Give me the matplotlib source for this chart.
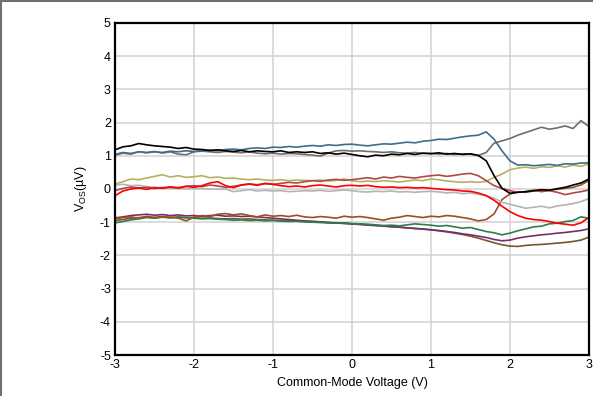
import numpy as np
import matplotlib
matplotlib.use("Agg")
import matplotlib.pyplot as plt
from matplotlib.lines import Line2D

plt.rcParams['font.family'] = ['Liberation Sans', 'DejaVu Sans']
plt.rcParams['axes.unicode_minus'] = False

# common-mode voltage, -3 V .. 3 V in 0.1 V steps
vcm = np.round(np.arange(-3.0, 3.01, 0.1), 2)

black = [1.18, 1.27, 1.30, 1.37, 1.33, 1.30, 1.28, 1.26, 1.22, 1.25,
         1.20, 1.19, 1.16, 1.18, 1.15, 1.13, 1.16, 1.12, 1.15, 1.13,
         1.12, 1.15, 1.10, 1.12, 1.10, 1.12, 1.07, 1.09, 1.05, 1.08,
         1.04, 1.00, 0.97, 1.02, 1.00, 1.05, 1.03, 1.07, 1.04, 1.08,
         1.06, 1.09, 1.05, 1.07, 1.04, 1.06, 1.01, 0.85, 0.40, 0.02,
         -0.13, -0.10, -0.08, -0.05, -0.02, -0.04, 0.01, 0.05, 0.12, 0.18,
         0.30]
blue = [1.04, 1.10, 1.07, 1.12, 1.09, 1.12, 1.10, 1.14, 1.12, 1.15,
        1.13, 1.16, 1.17, 1.15, 1.19, 1.20, 1.18, 1.22, 1.24, 1.22,
        1.26, 1.25, 1.28, 1.26, 1.29, 1.31, 1.29, 1.33, 1.31, 1.34,
        1.35, 1.32, 1.30, 1.33, 1.36, 1.35, 1.38, 1.41, 1.39, 1.44,
        1.46, 1.50, 1.49, 1.53, 1.57, 1.60, 1.62, 1.72, 1.50, 1.15,
        0.85, 0.72, 0.73, 0.70, 0.72, 0.74, 0.71, 0.76, 0.75, 0.78,
        0.79]
dgray = [1.02, 1.08, 1.05, 1.12, 1.10, 1.13, 1.08, 1.12, 1.05, 1.03,
         1.12, 1.14, 1.12, 1.10, 1.13, 1.11, 1.09, 1.12, 1.08, 1.06,
         1.08, 1.05, 1.07, 1.06, 1.04, 1.02, 0.99, 1.08, 1.15, 1.16,
         1.14, 1.15, 1.13, 1.12, 1.10, 1.12, 1.09, 1.08, 1.10, 1.07,
         1.08, 1.05, 1.07, 1.04, 1.06, 1.05, 1.01, 1.10, 1.38, 1.45,
         1.52, 1.62, 1.70, 1.78, 1.86, 1.80, 1.84, 1.90, 1.82, 2.06,
         1.88]
khaki = [0.15, 0.22, 0.30, 0.28, 0.33, 0.38, 0.43, 0.36, 0.40, 0.35,
         0.37, 0.40, 0.34, 0.36, 0.32, 0.33, 0.30, 0.28, 0.30, 0.27,
         0.26, 0.28, 0.25, 0.27, 0.26, 0.25, 0.27, 0.24, 0.26, 0.30,
         0.25, 0.22, 0.24, 0.22, 0.25, 0.23, 0.21, 0.24, 0.27, 0.25,
         0.30, 0.28, 0.24, 0.22, 0.20, 0.22, 0.20, 0.23, 0.35, 0.45,
         0.58, 0.63, 0.66, 0.62, 0.67, 0.65, 0.70, 0.66, 0.72, 0.68,
         0.76]
ired = [-0.05, 0.02, 0.06, 0.03, 0.05, 0.01, 0.04, 0.06, 0.02, 0.08,
        0.10, 0.07, 0.12, 0.09, 0.05, 0.08, 0.12, 0.15, 0.13, 0.16,
        0.14, 0.17, 0.20, 0.18, 0.22, 0.25, 0.23, 0.27, 0.29, 0.26,
        0.28, 0.31, 0.34, 0.30, 0.36, 0.33, 0.38, 0.35, 0.33, 0.37,
        0.40, 0.42, 0.38, 0.41, 0.45, 0.47, 0.40, 0.25, 0.10, 0.02,
        -0.05, -0.10, -0.08, -0.04, -0.08, -0.05, -0.10, -0.17, -0.12, -0.08,
        -0.03]
red = [-0.20, -0.06, 0.00, 0.03, -0.01, 0.04, 0.02, 0.06, 0.04, 0.08,
       0.05, 0.10, 0.18, 0.22, 0.10, 0.04, 0.12, 0.15, 0.11, 0.17,
       0.14, 0.10, 0.07, 0.09, 0.06, 0.10, 0.12, 0.09, 0.06, 0.10,
       0.11, 0.09, 0.11, 0.07, 0.05, 0.06, 0.04, 0.05, 0.03, 0.04,
       0.02, 0.00, -0.02, -0.03, -0.06, -0.07, -0.12, -0.20, -0.34, -0.52,
       -0.68, -0.80, -0.88, -0.92, -0.94, -0.98, -1.03, -1.06, -1.09, -1.02,
       -0.86]
lgray = [0.12, 0.14, 0.10, 0.11, 0.07, 0.05, 0.04, 0.02, 0.03, 0.00,
         0.02, 0.01, 0.00, -0.01, 0.00, -0.08, -0.05, -0.02, -0.06, -0.04,
         -0.06, -0.05, -0.08, -0.07, -0.05, -0.06, -0.04, -0.07, -0.05, -0.03,
         -0.05, -0.08, -0.09, -0.07, -0.08, -0.06, -0.09, -0.08, -0.10, -0.08,
         -0.07, -0.09, -0.12, -0.10, -0.14, -0.12, -0.16, -0.20, -0.28, -0.40,
         -0.46, -0.52, -0.58, -0.55, -0.52, -0.57, -0.51, -0.48, -0.44, -0.38,
         -0.29]
sienna = [-0.90, -0.86, -0.84, -0.88, -0.82, -0.86, -0.83, -0.85, -0.88, -0.96,
          -0.85, -0.80, -0.83, -0.76, -0.74, -0.78, -0.75, -0.80, -0.84, -0.78,
          -0.82, -0.80, -0.83, -0.79, -0.84, -0.86, -0.83, -0.85, -0.88, -0.82,
          -0.85, -0.83, -0.86, -0.90, -0.94, -0.88, -0.85, -0.80, -0.83, -0.86,
          -0.82, -0.84, -0.80, -0.82, -0.86, -0.90, -0.96, -0.92, -0.75, -0.32,
          -0.15, -0.09, -0.10, -0.06, -0.04, -0.03, -0.01, 0.02, 0.05, 0.12,
          0.25]
green = [-1.02, -0.98, -0.93, -0.90, -0.86, -0.88, -0.85, -0.87, -0.84, -0.86,
         -0.88, -0.90, -0.89, -0.91, -0.92, -0.94, -0.93, -0.95, -0.94, -0.96,
         -0.95, -0.97, -0.98, -0.97, -0.99, -1.00, -1.01, -1.02, -1.03, -1.02,
         -1.04, -1.05, -1.06, -1.08, -1.10, -1.09, -1.11, -1.08, -1.05, -1.07,
         -1.09, -1.12, -1.10, -1.14, -1.18, -1.16, -1.22, -1.28, -1.32, -1.38,
         -1.33, -1.26, -1.20, -1.14, -1.12, -1.05, -1.03, -0.98, -0.95, -0.84,
         -0.88]
purple = [-0.87, -0.84, -0.80, -0.78, -0.76, -0.79, -0.77, -0.80, -0.78, -0.81,
          -0.80, -0.82, -0.80, -0.79, -0.82, -0.81, -0.83, -0.82, -0.84, -0.86,
          -0.88, -0.90, -0.92, -0.94, -0.96, -0.97, -0.99, -1.01, -1.02, -1.04,
          -1.05, -1.06, -1.08, -1.10, -1.11, -1.13, -1.15, -1.17, -1.19, -1.20,
          -1.23, -1.25, -1.28, -1.31, -1.35, -1.38, -1.42, -1.46, -1.52, -1.56,
          -1.54, -1.48, -1.44, -1.41, -1.38, -1.36, -1.33, -1.31, -1.28, -1.25,
          -1.20]
dbrown = [-0.95, -0.92, -0.88, -0.86, -0.85, -0.86, -0.84, -0.86, -0.85, -0.87,
          -0.86, -0.88, -0.87, -0.89, -0.90, -0.89, -0.91, -0.90, -0.92, -0.93,
          -0.94, -0.95, -0.96, -0.97, -0.98, -0.99, -1.00, -1.01, -1.02, -1.03,
          -1.05, -1.07, -1.09, -1.10, -1.12, -1.14, -1.15, -1.17, -1.19, -1.21,
          -1.23, -1.26, -1.29, -1.33, -1.37, -1.42, -1.48, -1.55, -1.62, -1.68,
          -1.72, -1.73, -1.70, -1.68, -1.67, -1.65, -1.63, -1.61, -1.58, -1.54,
          -1.45]

series = [dbrown, purple, green, sienna, lgray, khaki, ired, red, dgray, blue, black]
colors = ['#7b5530', '#7a2d6e', '#2e7d4e', '#9a5020', '#b4b4b4', '#b8b060',
          '#b04848', '#ff0000', '#6e6e6e', '#3b6e8f', '#000000']

fig = plt.figure(figsize=(5.93, 3.96), dpi=100)
ax = fig.add_axes([0.194, 0.1035, 0.799, 0.8385])

for ys, c in zip(series, colors):
    ax.plot(vcm, ys, color=c, lw=1.2)

ax.set_xlim(-3, 3)
ax.set_ylim(-5, 5)
ax.set_xticks(np.arange(-3, 4, 1))
ax.set_yticks(np.arange(-5, 6, 1))
ax.grid(True, color='#d2d2d2', lw=1.1)
ax.set_axisbelow(True)
ax.tick_params(length=0, labelsize=9, pad=3)
for s in ax.spines.values():
    s.set_linewidth(1.6)
    s.set_color('black')

ax.set_xlabel('Common-Mode Voltage (V)', fontsize=9, labelpad=4)
ax.set_ylabel(r'V$_{\mathregular{OS}}$(µV)', fontsize=9, labelpad=8)

# frame around the figure (left and top edges visible)
fig.add_artist(Line2D([0.002, 0.002], [0, 1], transform=fig.transFigure, color='#707070', lw=1.5))
fig.add_artist(Line2D([0, 1], [0.997, 0.997], transform=fig.transFigure, color='#707070', lw=1.5))

fig.savefig('out.png', dpi=100)
